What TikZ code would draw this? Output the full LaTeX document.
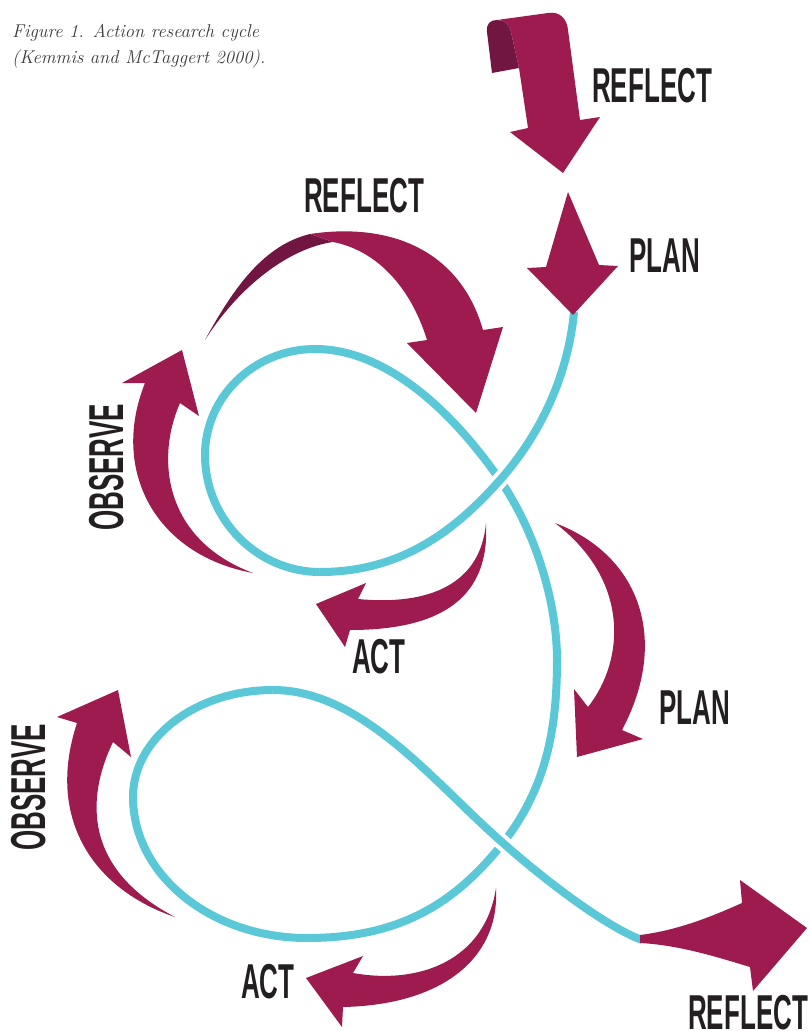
\documentclass[tikz,border=0pt]{standalone}
\usepackage{fontspec}
\usepackage{graphicx}
\newfontfamily\lblfont{Liberation Sans}
\newcommand{\lblcond}[1]{\scalebox{0.53}[1]{#1}}
\definecolor{mag}{RGB}{158,27,80}
\definecolor{magdark}{RGB}{112,22,64}
\definecolor{cyanl}{RGB}{90,200,214}
\definecolor{txt}{RGB}{35,31,32}
\definecolor{captxt}{RGB}{60,60,60}
\begin{document}
\begin{tikzpicture}[x=1pt,y=-1pt,
  cline/.style={draw=cyanl,line width=8pt},
  halo/.style={preaction={draw=white,line width=16pt}},
  arr/.style={fill=mag,draw=none},
  arrdark/.style={fill=magdark,draw=none},
  lbl/.style={inner sep=0pt,anchor=base west,text depth=0pt,text=txt,font=\lblfont\bfseries\fontsize{49}{49}\selectfont},
  capt/.style={inner sep=0pt,anchor=base west,text=captxt,font=\itshape\fontsize{18.5}{22}\selectfont}]
\useasboundingbox[fill=white] (0,0) rectangle (810,1031);

% caption
\node[capt] (cap1) at (12,37) {Figure 1. Action research cycle};
\node[capt] (cap2) at (12,63) {(Kemmis and McTaggert 2000).};

% cyan figure-eight path
\coordinate (A) at (574,312);
\coordinate (B) at (500,480);
\coordinate (C) at (320,572);
\coordinate (D) at (205,455);
\coordinate (E) at (315,349);
\coordinate (G) at (557,660);
\coordinate (H) at (503,843);
\coordinate (I) at (307,938);
\coordinate (J) at (133,797);
\coordinate (K) at (273,690);
\coordinate (M) at (642,940);

\path[cline] (C) .. controls (257,572) and (205,519) .. (D)
  .. controls (205,397) and (254,349) .. (E)
  .. controls (390,349) and (457,418) .. (B)
  .. controls (534,529) and (557,600) .. (G)
  .. controls (557,730) and (546,788) .. (H)
  .. controls (453,906) and (397,938) .. (I)
  .. controls (211,938) and (133,875) .. (J)
  .. controls (133,738) and (196,690) .. (K);
\path[cline,halo] (A) .. controls (568,376) and (540,435) .. (B)
  .. controls (454,532) and (400,572) .. (C);
\path[cline,halo] (K) .. controls (363,690) and (435,784) .. (H)
  .. controls (540,876) and (604,926) .. (M);

% top REFLECT ribbon arrow
\fill[arrdark] (492,73) -- (487,32) .. controls (486,24) and (490,20) .. (497,20)
  .. controls (504,20) and (509,24) .. (511,32) -- (519,68) -- cycle;
\fill[arr] (497,20) -- (548,13) .. controls (560,11) and (567,19) .. (568,30)
  -- (580,120) -- (600,117) -- (563,173) -- (510,132) -- (528,128) -- (519,68)
  -- (511,32) .. controls (509,24) and (504,20) .. (497,20) -- cycle;

% top PLAN arrow
\fill[arr] (568,192) -- (599,265) -- (618,266) -- (573,315) -- (527,268) -- (546,267) -- cycle;

% middle REFLECT curved arrow
\fill[arrdark] (205,340) .. controls (235,285) and (265,245) .. (310,234)
  -- (333,242) .. controls (290,248) and (240,285) .. (205,340) -- cycle;
\fill[arr] (310,234) .. controls (390,222) and (460,250) .. (483,330)
  -- (503,327) -- (476,413) -- (407,343) -- (427,340)
  .. controls (410,285) and (375,250) .. (333,242) -- cycle;

% upper OBSERVE arrow
\fill[arr] (253,573) .. controls (155,555) and (110,470) .. (145,383)
  -- (122,383) -- (182,350) -- (199,416) -- (180,403)
  .. controls (155,460) and (165,540) .. (253,573) -- cycle;

% upper ACT arrow
\fill[arr] (486,523) .. controls (490,595) and (445,630) .. (350,630)
  -- (345,647) -- (316,604) -- (366,583) -- (358,599)
  .. controls (420,605) and (480,590) .. (486,523) -- cycle;

% middle PLAN arrow
\fill[arr] (555,523) .. controls (640,555) and (670,640) .. (622,730)
  -- (643,739) -- (577,757) -- (574,689) -- (588,707)
  .. controls (625,660) and (630,580) .. (555,523) -- cycle;

% lower OBSERVE arrow
\fill[arr] (175,917) .. controls (95,890) and (45,820) .. (77,723)
  -- (57,717) -- (118,690) -- (131,757) -- (113,742)
  .. controls (85,800) and (85,870) .. (175,917) -- cycle;

% lower ACT arrow
\fill[arr] (496,888) .. controls (500,960) and (440,1005) .. (343,1007)
  -- (342,1027) -- (306,978) -- (363,956) -- (353,973)
  .. controls (420,985) and (485,960) .. (496,888) -- cycle;

% lower REFLECT arrow
\fill[arr] (640,935) .. controls (680,930) and (715,915) .. (742,903)
  -- (740,880) -- (807,928) -- (753,991) -- (750,967)
  .. controls (720,958) and (680,945) .. (640,943) -- cycle;

% labels
\node[lbl] (reflect1) at (592,102) {\lblcond{REFLECT}};
\node[lbl] (plan1) at (629,272) {\lblcond{PLAN}};
\node[lbl] (reflect2) at (304,212) {\lblcond{REFLECT}};
\node[lbl,rotate=90] (observe1) at (123,531) {\lblcond{OBSERVE}};
\node[lbl] (act1) at (352,673) {\lblcond{ACT}};
\node[lbl] (plan2) at (659,724) {\lblcond{PLAN}};
\node[lbl,rotate=90] (observe2) at (45,851) {\lblcond{OBSERVE}};
\node[lbl] (act2) at (241,998) {\lblcond{ACT}};
\node[lbl] (reflect3) at (688,1029) {\lblcond{REFLECT}};
\end{tikzpicture}
\end{document}
